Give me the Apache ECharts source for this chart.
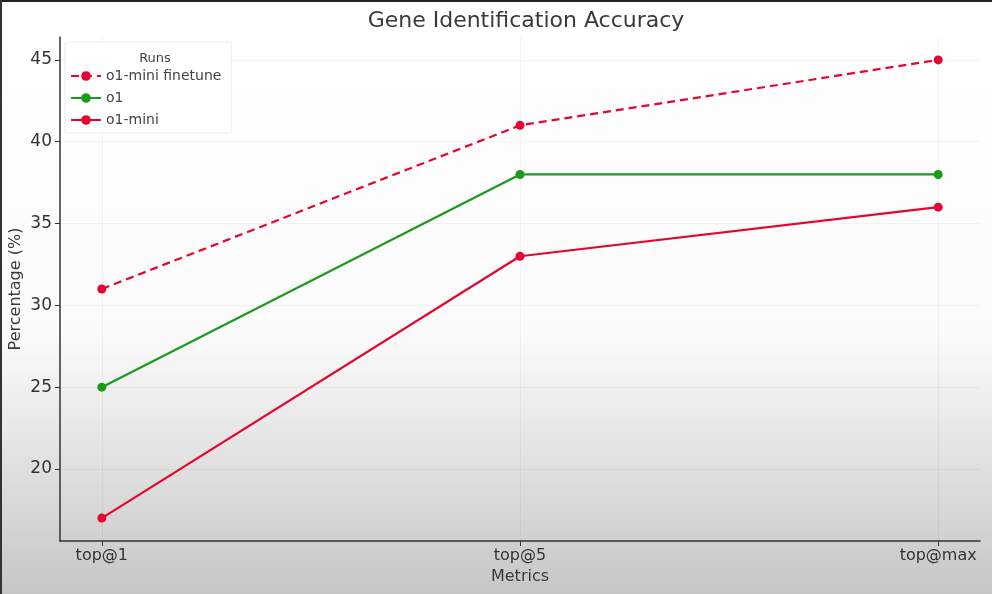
<!DOCTYPE html>
<html>
<head>
<meta charset="utf-8">
<script src="https://cdn.jsdelivr.net/npm/echarts@6/dist/echarts.min.js"></script>
<style>
  html, body { margin: 0; padding: 0; }
  #chart { width: 992px; height: 594px; }
</style>
</head>
<body>
<div id="chart"></div>
<script>
const categories = ['top@1', 'top@5', 'top@max'];
const yTicks = [20, 25, 30, 35, 40, 45];
const finetune = [31, 41, 45];
const o1 = [25, 38, 38];
const o1mini = [17, 33, 36];

const RED = '#e4062f';
const GREEN = '#1c9a1c';
const FONT = 'DejaVu Sans';

const toPoints = vals => vals.map((v, i) => [i, v]);
const xIdx = categories.map((c, i) => i);

const chart = echarts.init(document.getElementById('chart'));

function line(name, vals, color, type) {
  return {
    name: name,
    type: 'line',
    data: toPoints(vals),
    symbol: 'circle',
    symbolSize: 9,
    lineStyle: { color: color, width: 2.2, type: type },
    itemStyle: { color: color },
    emphasis: { disabled: true }
  };
}

chart.setOption({
  backgroundColor: {
    type: 'linear', x: 0, y: 0, x2: 0, y2: 1,
    colorStops: [
      { offset: 0, color: '#ffffff' },
      { offset: 0.56, color: '#fbfbfb' },
      { offset: 1, color: '#c6c6c6' }
    ]
  },
  textStyle: { fontFamily: FONT },
  title: [{
    text: 'Gene Identification Accuracy',
    left: 521, top: 5, textAlign: 'center',
    textStyle: { fontFamily: FONT, fontSize: 22, fontWeight: 'normal', color: '#3a3a3a' }
  }, {
    text: 'Runs',
    left: 150, top: 47, textAlign: 'center',
    textStyle: { fontFamily: FONT, fontSize: 13, fontWeight: 'normal', color: '#444' }
  }],
  legend: {
    orient: 'vertical',
    left: 65, top: 42,
    padding: [27, 10, 6, 5],
    itemWidth: 30, itemHeight: 12,
    itemGap: 8,
    backgroundColor: 'rgba(255,255,255,0.85)',
    borderColor: '#ececec', borderWidth: 1, borderRadius: 3,
    textStyle: { fontFamily: FONT, fontSize: 14, color: '#444' },
    data: ['o1-mini finetune', 'o1', 'o1-mini']
  },
  grid: { left: 60, right: 12, top: 37, bottom: 53, outerBoundsMode: 'none', containLabel: false },
  xAxis: {
    type: 'value',
    min: -0.1, max: 2.1,
    name: 'Metrics', nameLocation: 'middle', nameGap: 28,
    nameTextStyle: { fontFamily: FONT, fontSize: 16, color: '#3a3a3a' },
    axisLine: { onZero: false, lineStyle: { color: '#333', width: 1.5 } },
    axisTick: { customValues: xIdx, length: 5, lineStyle: { color: '#333' } },
    axisLabel: {
      customValues: xIdx,
      formatter: v => categories[v],
      fontFamily: FONT, fontSize: 16, color: '#333', margin: 7
    },
    splitLine: { show: true, lineStyle: { color: 'rgba(0,0,0,0.04)' } }
  },
  yAxis: {
    type: 'value',
    min: 15.6, max: 46.4,
    name: 'Percentage (%)', nameLocation: 'middle', nameGap: 36,
    nameMoveOverlap: false,
    nameTextStyle: { fontFamily: FONT, fontSize: 16, color: '#3a3a3a' },
    axisLine: { show: true, onZero: false, lineStyle: { color: '#333', width: 1.5 } },
    axisTick: { show: true, customValues: yTicks, length: 5, lineStyle: { color: '#333' } },
    axisLabel: { customValues: yTicks, fontFamily: FONT, fontSize: 17, color: '#333', margin: 8 },
    splitLine: { show: true, lineStyle: { color: 'rgba(0,0,0,0.04)' } }
  },
  series: [
    line('o1-mini finetune', finetune, RED, [8, 5]),
    line('o1', o1, GREEN, 'solid'),
    line('o1-mini', o1mini, RED, 'solid')
  ],
  graphic: [
    { type: 'rect', left: 0, top: 0, shape: { width: 992, height: 2 }, style: { fill: '#222' }, silent: true },
    { type: 'rect', left: 0, top: 0, shape: { width: 2, height: 594 }, style: { fill: '#333' }, silent: true }
  ],
  animation: false
});
</script>
</body>
</html>
